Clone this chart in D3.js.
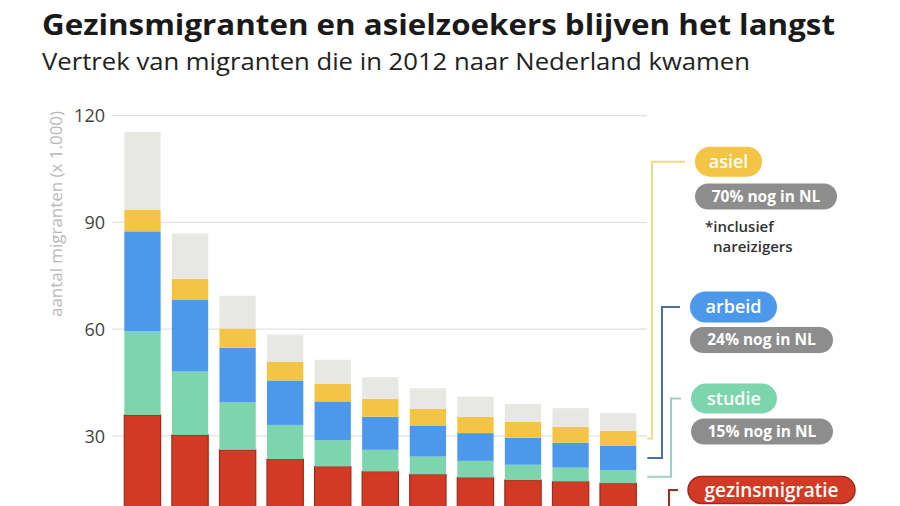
<!DOCTYPE html>
<html>
<head>
<meta charset="utf-8">
<script src="https://cdn.jsdelivr.net/npm/d3@7"></script>
<style>
  html, body { margin: 0; padding: 0; background: #fff; }
  svg { display: block; }
</style>
</head>
<body>
<svg id="chart" width="900" height="506"></svg>
<script>
// ---- data (x 1.000 migranten) ----
const categories = ["2012","2013","2014","2015","2016","2017","2018","2019","2020","2021","2022"];
const gezinsmigratie = [35.9, 30.3, 26.1, 23.5, 21.4, 20.0, 19.2, 18.3, 17.6, 17.2, 16.7];
const studie         = [23.6, 17.8, 13.3,  9.6,  7.4,  6.1,  5.0,  4.7,  4.3,  3.9,  3.7];
const arbeid         = [28.0, 20.1, 15.4, 12.5, 10.9,  9.3,  8.6,  7.8,  7.6,  7.0,  6.8];
const asiel          = [ 6.1,  6.0,  5.4,  5.3,  4.9,  5.0,  4.8,  4.6,  4.5,  4.5,  4.2];
const overig         = [21.8, 12.7,  9.2,  7.6,  6.8,  6.1,  5.8,  5.7,  5.0,  5.2,  5.0];
const seriesKeys = ["gezinsmigratie","studie","arbeid","asiel","overig"];
const yTicks = [30, 60, 90, 120];
const legendLabels = ["asiel","arbeid","studie","gezinsmigratie"];
const legendNotes = ["70% nog in NL","24% nog in NL","15% nog in NL",null];

const colors = {
  gezinsmigratie: "#d33a25",
  studie: "#7dd5ad",
  arbeid: "#4c99ec",
  asiel: "#f4c444",
  overig: "#e7e7e3"
};
const lineColors = {
  asiel: "#f0da85",
  arbeid: "#4d6f9c",
  studie: "#9ed2c6",
  gezinsmigratie: "#9c2e20"
};

const table = categories.map((c, i) => ({
  cat: c,
  gezinsmigratie: gezinsmigratie[i],
  studie: studie[i],
  arbeid: arbeid[i],
  asiel: asiel[i],
  overig: overig[i]
}));

const svg = d3.select("#chart");

// ---- title ----
svg.append("text")
  .attr("x", 42).attr("y", 35)
  .attr("font-family", "'Open Sans', sans-serif")
  .attr("font-weight", 700)
  .attr("font-size", 29)
  .attr("fill", "#1a1a1a")
  .attr("textLength", 793).attr("lengthAdjust", "spacingAndGlyphs")
  .text("Gezinsmigranten en asielzoekers blijven het langst");
svg.append("text")
  .attr("x", 42).attr("y", 70)
  .attr("font-family", "'Open Sans', sans-serif")
  .attr("font-weight", 400)
  .attr("font-size", 24)
  .attr("fill", "#222")
  .attr("textLength", 708).attr("lengthAdjust", "spacingAndGlyphs")
  .text("Vertrek van migranten die in 2012 naar Nederland kwamen");

// ---- scales ----
const x = d3.scaleBand().domain(categories).range([114.8, 645.8])
  .paddingInner(0.237).paddingOuter(0.2);
const y = d3.scaleLinear().domain([0, 120]).range([542.7, 115.7]);

// ---- grid ----
const grid = svg.append("g");
grid.selectAll("line").data(yTicks).join("line")
  .attr("x1", 112).attr("x2", 647)
  .attr("y1", d => y(d)).attr("y2", d => y(d))
  .attr("stroke", "#e2e2e2").attr("stroke-width", 1.2);

// ---- y axis ----
const yAxis = d3.axisLeft(y).tickValues(yTicks).tickSize(0).tickPadding(0);
const ya = svg.append("g").attr("transform", "translate(105,0)").call(yAxis);
ya.select(".domain").remove();
ya.selectAll("text")
  .attr("font-family", "'Open Sans', sans-serif")
  .attr("font-size", 18)
  .attr("fill", "#444")
  .attr("dy", "0.34em");

svg.append("text")
  .attr("transform", "translate(62,214) rotate(-90)")
  .attr("text-anchor", "middle")
  .attr("font-family", "'Open Sans', sans-serif")
  .attr("font-size", 15.5)
  .attr("fill", "#b8b8b8")
  .attr("textLength", 206).attr("lengthAdjust", "spacingAndGlyphs")
  .text("aantal migranten (x 1.000)");

// ---- stacked bars ----
const stack = d3.stack().keys(seriesKeys);
const stacked = stack(table);

const layers = svg.append("g").selectAll("g").data(stacked).join("g")
  .attr("fill", d => colors[d.key]);
layers.selectAll("rect").data(d => d.map(v => Object.assign(v, {key: d.key}))).join("rect")
  .attr("x", d => x(d.data.cat))
  .attr("width", x.bandwidth())
  .attr("y", d => y(d[1]))
  .attr("height", d => y(d[0]) - y(d[1]))
  .attr("stroke", d => d.key === "gezinsmigratie" ? "#9a2a1c" : "none")
  .attr("stroke-width", d => d.key === "gezinsmigratie" ? 1.2 : 0);

// ---- legend connectors & pills ----
const lastIdx = categories.length - 1;
const lastCat = categories[lastIdx];
const segMid = key => {
  const layer = stacked.find(s => s.key === key);
  const v = layer[lastIdx];
  return y((v[0] + v[1]) / 2);
};
const legendCfg = {
  asiel:          {vx: 652, ly: 161.7, px: 695, pw: 67,  ph: 30, fs: 18, nx: 695, ny: 183.5, nw: 142},
  arbeid:         {vx: 662, ly: 307,   px: 690, pw: 87,  ph: 31, fs: 18, nx: 690, ny: 327,   nw: 143},
  studie:         {vx: 671, ly: 398.5, px: 691, pw: 86,  ph: 30, fs: 18, nx: 691, ny: 418.5, nw: 142},
  gezinsmigratie: {vx: 669, ly: 490,   px: 688, pw: 167, ph: 27, fs: 19}
};
const lineStart = x(lastCat) + x.bandwidth() + 11;

legendLabels.forEach((key, i) => {
  const c = legendCfg[key];
  const sy = segMid(key);
  svg.append("path")
    .attr("d", `M${lineStart},${sy} H${c.vx} V${c.ly} H${c.px - 10}`)
    .attr("fill", "none")
    .attr("stroke", lineColors[key])
    .attr("stroke-width", 2);
  svg.append("rect")
    .attr("x", c.px).attr("y", c.ly - c.ph / 2)
    .attr("width", c.pw).attr("height", c.ph)
    .attr("rx", c.ph / 2)
    .attr("fill", colors[key])
    .attr("stroke", key === "gezinsmigratie" ? "#9a2a1c" : "none")
    .attr("stroke-width", 1.5);
  svg.append("text")
    .attr("x", c.px + c.pw / 2).attr("y", c.ly)
    .attr("dy", "0.35em")
    .attr("text-anchor", "middle")
    .attr("font-family", "'Open Sans', sans-serif")
    .attr("font-weight", 600)
    .attr("font-size", c.fs)
    .attr("fill", "#fff")
    .text(key);
  if (legendNotes[i]) {
    svg.append("rect")
      .attr("x", c.nx).attr("y", c.ny)
      .attr("width", c.nw).attr("height", 26)
      .attr("rx", 13)
      .attr("fill", "#8d8d8d");
    svg.append("text")
      .attr("x", c.nx + c.nw / 2).attr("y", c.ny + 13)
      .attr("dy", "0.35em")
      .attr("text-anchor", "middle")
      .attr("font-family", "'Open Sans', sans-serif")
      .attr("font-weight", 700)
      .attr("font-size", 15.5)
      .attr("fill", "#fff")
      .text(legendNotes[i]);
  }
});

svg.append("text")
  .attr("x", 705).attr("y", 232)
  .attr("font-family", "'Open Sans', sans-serif")
  .attr("font-weight", 600)
  .attr("font-size", 15)
  .attr("fill", "#333")
  .text("*inclusief");
svg.append("text")
  .attr("x", 713).attr("y", 252)
  .attr("font-family", "'Open Sans', sans-serif")
  .attr("font-weight", 600)
  .attr("font-size", 15)
  .attr("fill", "#333")
  .text("nareizigers");
</script>
</body>
</html>
